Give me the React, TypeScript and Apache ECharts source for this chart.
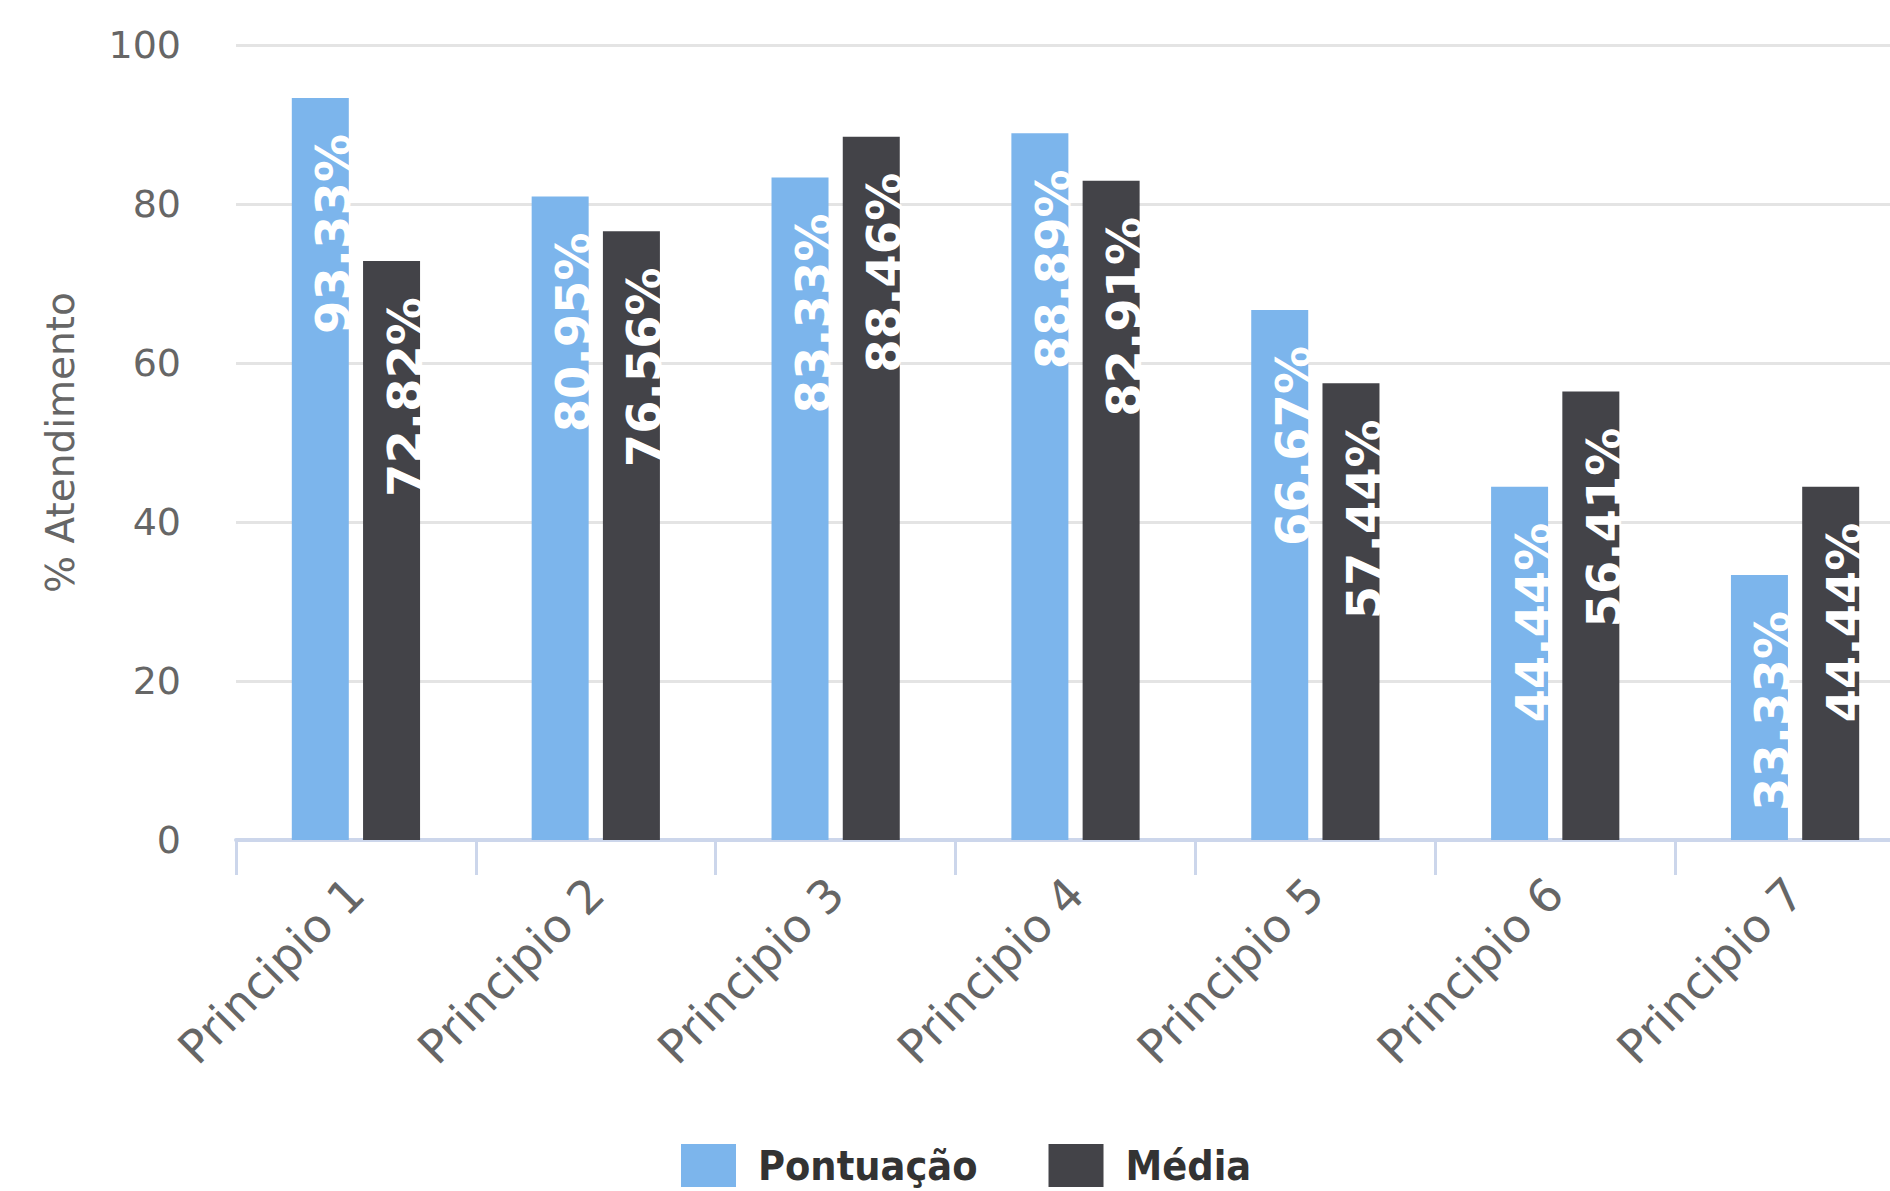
import React, { useEffect, useRef } from "react";
import * as echarts from "echarts";

const categories = ["Principio 1", "Principio 2", "Principio 3", "Principio 4", "Principio 5", "Principio 6", "Principio 7"];
const pontuacao = [93.33, 80.95, 83.33, 88.89, 66.67, 44.44, 33.33];
const media = [72.82, 76.56, 88.46, 82.91, 57.44, 56.41, 44.44];
const yTicks = { min: 0, max: 100, interval: 20 };

const FONT = "'DejaVu Sans', Verdana, sans-serif";

export default function App() {
  const ref = useRef<HTMLDivElement>(null);
  useEffect(() => {
    if (!ref.current) return;
    const chart = echarts.init(ref.current, undefined, { renderer: "svg" });
    const dataLabel = {
      show: true,
      position: "insideTop",
      rotate: 90,
      align: "right",
      verticalAlign: "middle",
      distance: 36,
      offset: [0, 13],
      color: "#ffffff",
      fontWeight: "bold",
      fontSize: 48,
      fontFamily: FONT,
      formatter: (p: any) => Number(p.value).toFixed(2) + "%",
    };
    chart.setOption({
      animation: false,
      backgroundColor: "#ffffff",
      grid: { left: 236, top: 45, bottom: 351, right: 0, containLabel: false },
      legend: {
        left: 676,
        top: 1139,
        itemWidth: 55,
        itemHeight: 43,
        itemGap: 71,
        icon: "rect",
        selectedMode: false,
        textStyle: {
          fontSize: 41,
          fontWeight: "bold",
          fontFamily: "'DejaVu Sans Condensed', 'DejaVu Sans', sans-serif",
          color: "#333333",
          padding: [0, 0, 0, 17],
        },
        data: ["Pontuação", "Média"],
      },
      xAxis: {
        type: "category",
        data: categories,
        axisLine: { show: true, lineStyle: { color: "#ccd6eb", width: 4 } },
        axisTick: { show: true, length: 35, lineStyle: { color: "#ccd6eb", width: 3 } },
        axisLabel: {
          rotate: 45,
          margin: 46,
          fontSize: 46,
          fontFamily: FONT,
          color: "#666666",
          interval: 0,
        },
        splitLine: { show: false },
      },
      yAxis: {
        type: "value",
        min: yTicks.min,
        max: yTicks.max,
        interval: yTicks.interval,
        name: "% Atendimento",
        nameLocation: "middle",
        nameRotate: 90,
        nameGap: 156,
        nameTextStyle: { fontSize: 39, fontFamily: FONT, color: "#666666" },
        axisLine: { show: false },
        axisTick: { show: false },
        axisLabel: {
          margin: 55,
          fontSize: 38,
          fontFamily: FONT,
          color: "#666666",
          padding: [0, 0, 16, 0],
        },
        splitLine: { show: true, lineStyle: { color: "#e4e4e4", width: 3 } },
      },
      series: [
        {
          name: "Pontuação",
          type: "bar",
          data: pontuacao,
          barWidth: 57,
          barGap: "25%",
          itemStyle: { color: "#7cb5ec" },
          label: dataLabel,
        },
        {
          name: "Média",
          type: "bar",
          data: media,
          barWidth: 57,
          barGap: "25%",
          itemStyle: { color: "#434348" },
          label: dataLabel,
        },
      ],
    });
    return () => chart.dispose();
  }, []);
  return (
    <div style={{ position: "fixed", left: 0, top: 0, width: 1890, height: 1191, overflow: "hidden", background: "#fff" }}>
      <div ref={ref} style={{ position: "absolute", left: 0, top: 0, width: 1915, height: 1191 }} />
    </div>
  );
}
